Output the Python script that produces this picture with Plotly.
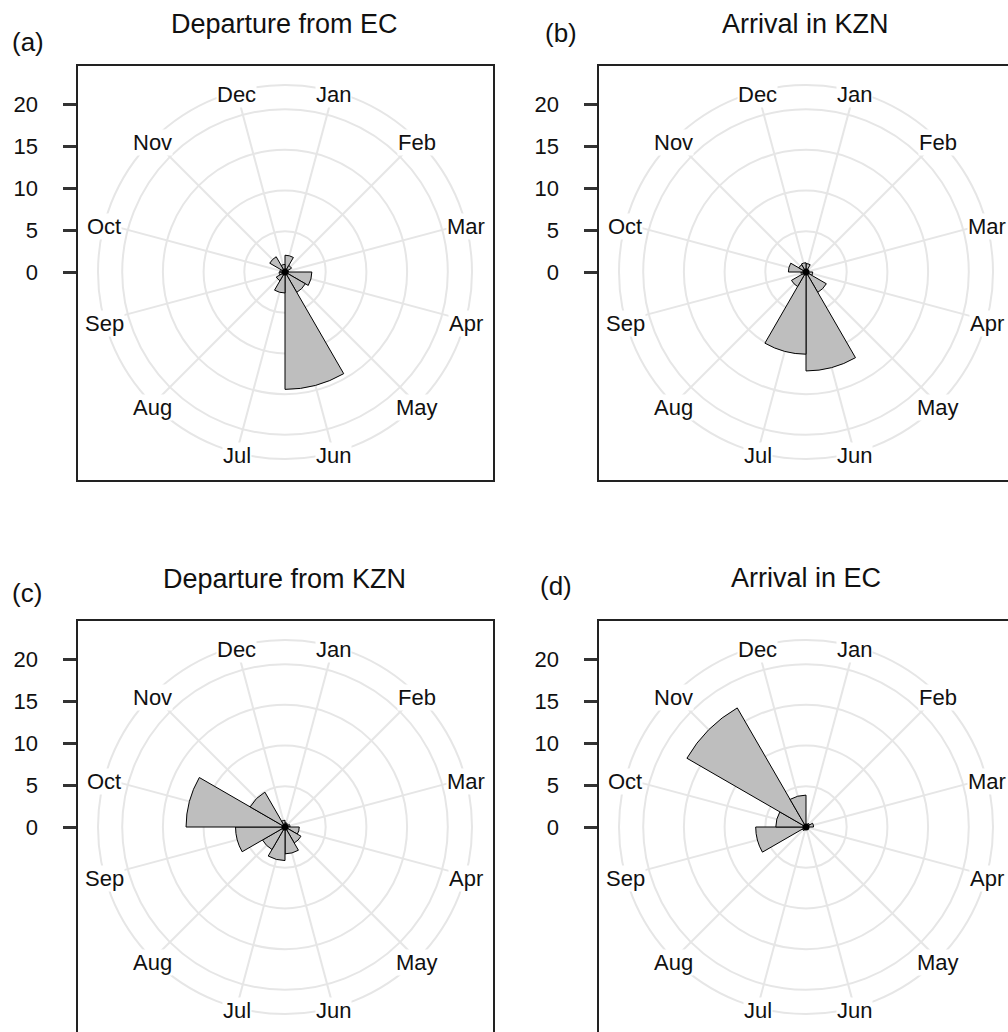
import math
import plotly.graph_objects as go

# ---------------- data ----------------
months = ["Jan", "Feb", "Mar", "Apr", "May", "Jun",
          "Jul", "Aug", "Sep", "Oct", "Nov", "Dec"]

titles = ["Departure from EC", "Arrival in KZN", "Departure from KZN", "Arrival in EC"]
panel_tags = ["(a)", "(b)", "(c)", "(d)"]

dep_ec = [2.0, 0.9, 0.4, 3.2, 2.8, 14.0, 2.5, 1.2, 0.7, 0.6, 2.1, 0.9]
arr_kzn = [1.0, 0.3, 0.3, 0.8, 2.8, 11.8, 9.8, 2.0, 0.6, 2.1, 1.0, 1.1]
dep_kzn = [0.5, 0.4, 0.6, 1.7, 2.2, 3.2, 4.0, 3.1, 5.9, 11.8, 4.8, 0.8]
arr_ec = [0.3, 0.5, 0.9, 0.3, 0.2, 0.2, 0.3, 0.5, 6.0, 3.6, 16.4, 3.8]

series = [dep_ec, arr_kzn, dep_kzn, arr_ec]
y_ticks = [0, 5, 10, 15, 20]

# ---------------- geometry / style ----------------
W, H = 1008, 1032
PXU = 8.385                 # pixels per axis unit
R_OUT_PX = 187.0            # outer circle radius in px
RING_PX = 40.7              # spacing of grid rings in px
R_MAX = R_OUT_PX / PXU
RING = RING_PX / PXU
centers = [(285, 272), (806, 272), (285, 827), (806, 827)]
BOX_L, BOX_R, BOX_T, BOX_B = 207.5, 208.0, 206.5, 208.0

tag_pos = [(10, 42.5), (543, 33.5), (10, 592.5), (538, 586)]
title_pos = [(284.5, 24), (805, 24), (284, 579), (805.5, 578)]

FONT = "Arial, 'Liberation Sans', Helvetica, sans-serif"
GRID = "#E6E6E6"
TXT = "#111111"

fig = go.Figure()
layout = dict(
    width=W, height=H, margin=dict(l=0, r=0, t=0, b=0),
    paper_bgcolor="white", plot_bgcolor="rgba(0,0,0,0)",
    showlegend=False, font=dict(family=FONT, color=TXT, size=22),
)
annotations = []

for i, (cx, cy) in enumerate(centers):
    n = i + 1
    xa = "x" if n == 1 else f"x{n}"
    ya = "y" if n == 1 else f"y{n}"
    pk = "polar" if n == 1 else f"polar{n}"

    x0 = max(0.0, cx - BOX_L)
    x1 = min(W, cx + BOX_R)
    y0 = max(0.0, cy - BOX_T)
    y1 = min(H, cy + BOX_B)
    right_visible = cx + BOX_R <= W
    bottom_visible = cy + BOX_B <= H

    # cartesian frame with the left value axis
    fig.add_trace(go.Scatter(x=[0], y=[0], mode="markers", marker=dict(opacity=0),
                             hoverinfo="skip", xaxis=xa, yaxis=ya))
    layout["xaxis" if n == 1 else f"xaxis{n}"] = dict(
        domain=[x0 / W, x1 / W], range=[(x0 - cx) / PXU, (x1 - cx) / PXU],
        anchor=ya, showgrid=False, zeroline=False, showticklabels=False, ticks="",
        showline=True, linecolor="#222222", linewidth=2,
        side="bottom" if bottom_visible else "top",
        mirror=True if bottom_visible else False, fixedrange=True,
    )
    layout["yaxis" if n == 1 else f"yaxis{n}"] = dict(
        domain=[1 - y1 / H, 1 - y0 / H], range=[(cy - y1) / PXU, (cy - y0) / PXU],
        anchor=xa, showgrid=False, zeroline=False,
        tickvals=y_ticks, ticks="outside", ticklen=13, tickwidth=2.5, tickcolor="#333333",
        tickfont=dict(size=22, family=FONT, color=TXT), ticklabelstandoff=20,
        showline=True, linecolor="#222222", linewidth=2,
        mirror=True if right_visible else False, fixedrange=True,
    )

    # polar rose
    fig.add_trace(go.Barpolar(
        r=series[i], theta=months, subplot=pk,
        marker=dict(color="#BEBEBE", line=dict(color="black", width=1)),
        hoverinfo="skip",
    ))
    fig.add_trace(go.Scatterpolar(
        r=[0], theta=[months[0]], mode="markers", subplot=pk,
        marker=dict(color="black", size=7), hoverinfo="skip",
    ))
    layout[pk] = dict(
        domain=dict(x=[(cx - R_OUT_PX) / W, (cx + R_OUT_PX) / W],
                    y=[1 - (cy + R_OUT_PX) / H, 1 - (cy - R_OUT_PX) / H]),
        bgcolor="rgba(0,0,0,0)", bargap=0,
        radialaxis=dict(range=[0, R_MAX], tickvals=[RING * k for k in range(1, 5)],
                        showticklabels=False, ticks="", showline=False,
                        gridcolor=GRID, gridwidth=2),
        angularaxis=dict(type="category", categoryarray=months, rotation=75,
                         direction="clockwise", showticklabels=False, ticks="",
                         showline=True, linecolor=GRID, linewidth=2,
                         gridcolor=GRID, gridwidth=2),
    )

    # month labels centred on the outer circle
    for k, m in enumerate(months):
        ang = math.radians(15 + 30 * k)
        annotations.append(dict(
            x=R_MAX * math.sin(ang), y=R_MAX * math.cos(ang), xref=xa, yref=ya,
            text=m, showarrow=False, xanchor="center", yanchor="middle",
            yshift=-3, bgcolor="white", borderpad=0,
            font=dict(size=22, family=FONT, color=TXT),
        ))

    # title and panel tag
    tx, ty = title_pos[i]
    annotations.append(dict(x=tx / W, y=1 - ty / H, xref="paper", yref="paper",
                            text=titles[i], showarrow=False, xanchor="center",
                            yanchor="middle", font=dict(size=27, family=FONT, color=TXT)))
    gx, gy = tag_pos[i]
    annotations.append(dict(x=gx / W, y=1 - gy / H, xref="paper", yref="paper",
                            text=panel_tags[i], showarrow=False, xanchor="left",
                            yanchor="middle", font=dict(size=26, family=FONT, color=TXT)))

layout["annotations"] = annotations
fig.update_layout(**layout)
fig.write_html("out.html")
